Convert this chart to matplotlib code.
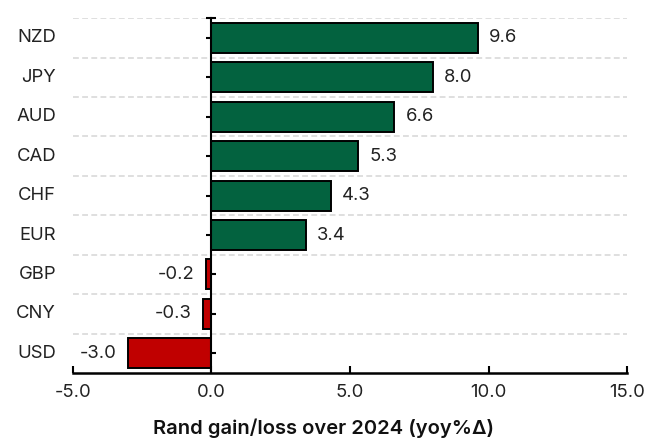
import matplotlib
matplotlib.use('Agg')
import matplotlib.pyplot as plt
import matplotlib.transforms as mtransforms
import numpy as np

currencies = ["NZD", "JPY", "AUD", "CAD", "CHF", "EUR", "GBP", "CNY", "USD"]
changes = [9.6, 8.0, 6.6, 5.3, 4.3, 3.4, -0.2, -0.3, -3.0]
xticks = [-5.0, 0.0, 5.0, 10.0, 15.0]

GREEN = '#03623f'
RED = '#c00000'
FS = 13.3

plt.rcParams['font.family'] = ['Inter', 'DejaVu Sans']

fig = plt.figure(figsize=(6.61, 4.43), dpi=100)
ax = fig.add_axes([0.110, 0.158, 0.839, 0.801])

n = len(currencies)
ypos = np.arange(n)[::-1]
colors = [GREEN if v >= 0 else RED for v in changes]

# dashed separators between categories
for k in range(n):
    ax.axhline(k + 0.5, color='#d9d9d9', linestyle=(0, (3.5, 2)), linewidth=1.2, zorder=0)

ax.barh(ypos, changes, height=0.76, color=colors, edgecolor='black', linewidth=1.4, zorder=2)

for y, v in zip(ypos, changes):
    if v >= 0:
        ax.annotate(f"{v:.1f}", (v, y), xytext=(8, 0), textcoords='offset points',
                    ha='left', va='center', fontsize=FS, color='#222222')
    else:
        ax.annotate(f"{v:.1f}", (v, y), xytext=(-8, 0), textcoords='offset points',
                    ha='right', va='center', fontsize=FS, color='#222222')

ax.set_xlim(-5, 15)
ax.set_ylim(-0.5, n - 0.5)
ax.set_xticks(xticks)
ax.set_xticklabels([f"{t:.1f}" for t in xticks], fontsize=FS, color='#222222')
ax.tick_params(axis='x', direction='in', length=5, width=1.5, pad=8)

ax.spines['top'].set_visible(False)
ax.spines['right'].set_visible(False)
ax.spines['left'].set_position(('data', 0))
ax.spines['left'].set_linewidth(1.5)
ax.spines['bottom'].set_linewidth(1.8)
ax.spines['left'].set_zorder(3)

ax.set_yticks(list(ypos) + [n - 0.5])
ax.set_yticklabels([])
ax.tick_params(axis='y', direction='inout', length=7, width=1.5)

trans = mtransforms.blended_transform_factory(ax.transAxes, ax.transData)
for y, c in zip(ypos, currencies):
    ax.text(-0.03, y, c, transform=trans, ha='right', va='center', fontsize=FS, color='#222222')

fig.text(0.489, 0.012, "Rand gain/loss over 2024 (yoy%\u0394)", ha='center', va='bottom',
         fontsize=14.5, fontweight='semibold', color='#111111')

fig.savefig("out.png", dpi=100)
